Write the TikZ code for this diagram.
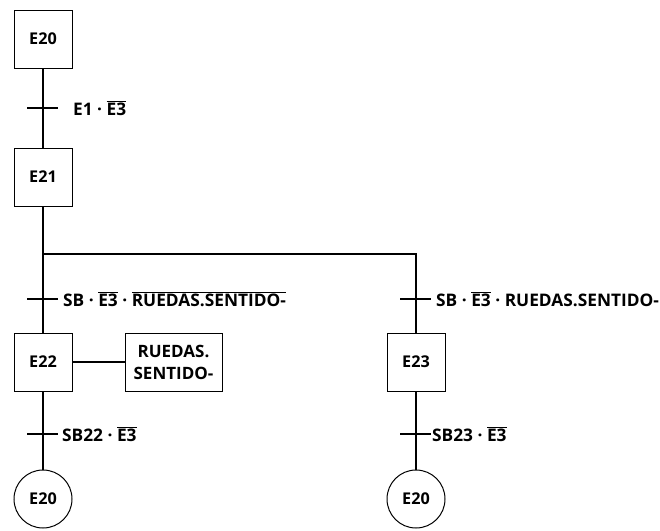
\documentclass[tikz,border=0pt]{standalone}
\usepackage{fontspec}
\setmainfont{Open Sans}
\usetikzlibrary{calc}
\newcommand{\ovl}[1]{$\overline{\mbox{#1}}$}
\begin{document}
\begin{tikzpicture}[x=1pt,y=-1pt,
  every node/.style={font=\bfseries\fontsize{17.3}{20}\selectfont, inner sep=0pt},
  stepbox/.style={draw, line width=1pt, minimum width=58pt, minimum height=58pt, font=\bfseries\fontsize{16.2}{19}\selectfont},
  endstep/.style={draw, circle, line width=1pt, minimum size=58pt, font=\bfseries\fontsize{16.2}{19}\selectfont},
  actbox/.style={draw, line width=1pt, minimum width=97pt, minimum height=58pt, align=center, font=\bfseries\fontsize{17}{22}\selectfont},
  link/.style={line width=1.2pt},
  cond/.style={anchor=west}]
\useasboundingbox (0,0) rectangle (660,530);
\node[stepbox] (e20) at (43,39) {E20};
\node[stepbox] (e21) at (43,177) {E21};
\node[stepbox] (e22) at (43,362) {E22};
\node[actbox] (act) at (173.5,362) {RUEDAS.\\SENTIDO-};
\node[stepbox] (e23) at (416,362) {E23};
\node[endstep] (c1) at (43,499) {E20};
\node[endstep] (c2) at (416,499) {E20};
\coordinate (j) at (43,254);
\coordinate (jr) at (416,254);
% transitions
\coordinate (t1) at (43,108);
\coordinate (t2) at (43,299);
\coordinate (t3) at (416,299);
\coordinate (t4) at (43,434);
\coordinate (t5) at (416,434);
\draw[link] (e20) -- (e21);
\draw[link] (e21) -- (j) -- (jr) -- (e23);
\draw[link] (j) -- (e22);
\draw[link] (e22) -- (act);
\draw[link] (e22) -- (c1);
\draw[link] (e23) -- (c2);
\foreach \t in {t1,t2,t3,t4,t5}{
  \draw[link] ($(\t)+(-16,0)$) -- ($(\t)+(15,0)$);
}
\node[cond] (l1) at (73,108) {E1 · \ovl{E3}};
\node[cond] (l2) at (63,299) {SB · \ovl{E3} · \ovl{RUEDAS.SENTIDO-}};
\node[cond] (l3) at (436,299) {SB · \ovl{E3} · RUEDAS.SENTIDO-};
\node[cond] (l4) at (62,434) {SB22 · \ovl{E3}};
\node[cond] (l5) at (432,434) {SB23 · \ovl{E3}};
\end{tikzpicture}
\end{document}
